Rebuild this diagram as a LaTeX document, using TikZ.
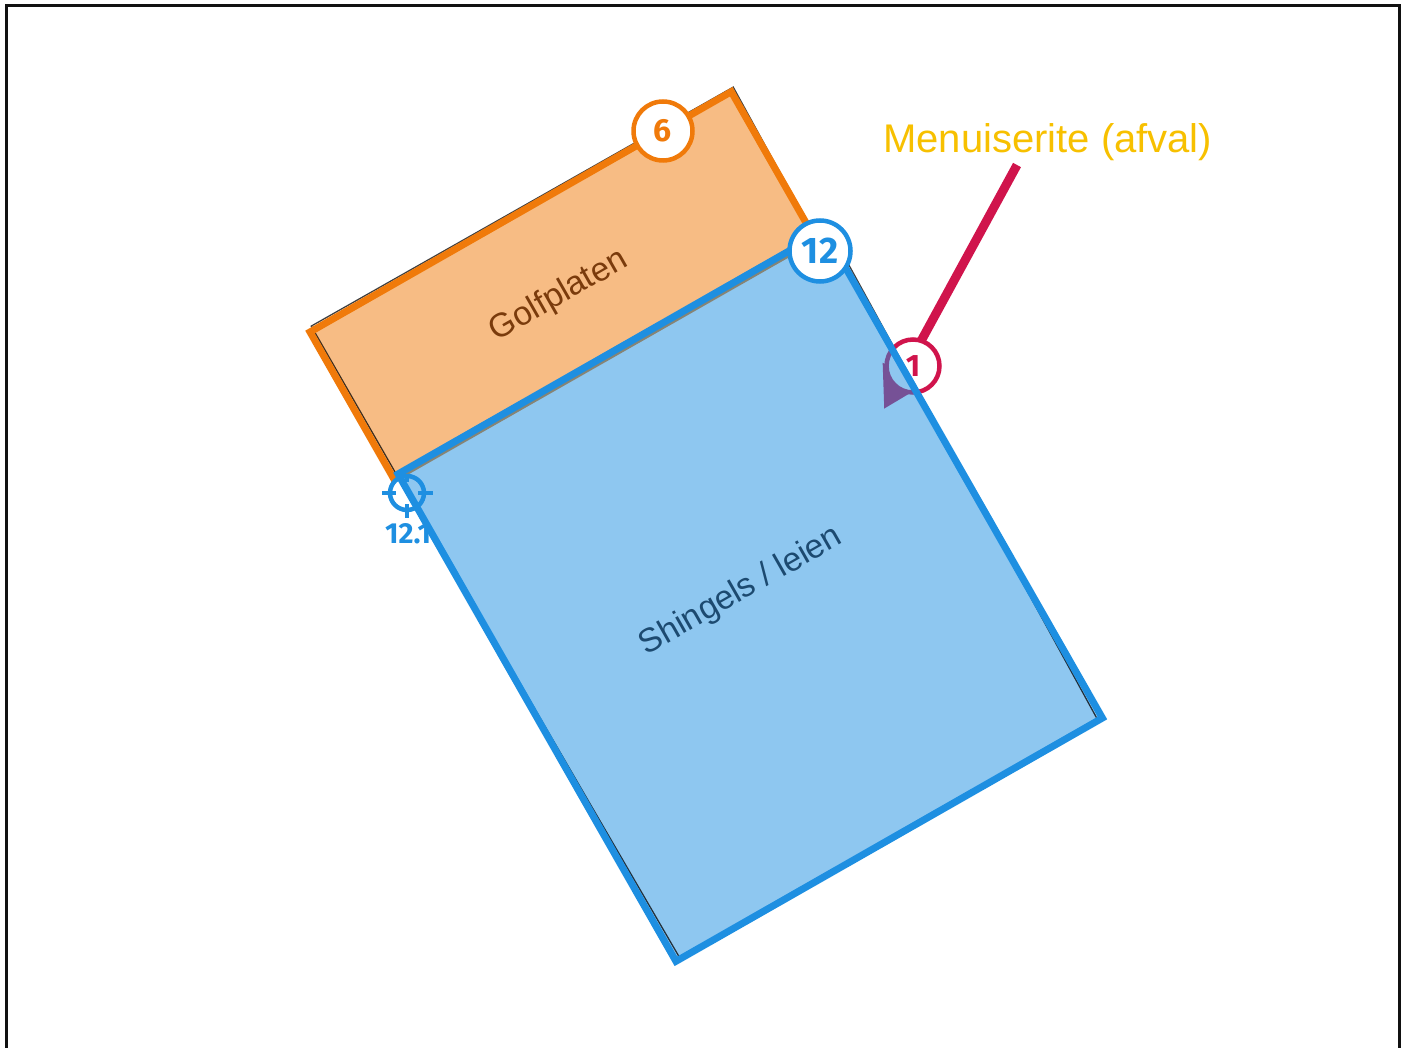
\documentclass[tikz,border=0pt]{standalone}
\usepackage{fontspec}
\setmainfont{Liberation Sans}
\newfontfamily\arialfont{Liberation Sans}
\newfontfamily\numfont{Fira Sans}
\usetikzlibrary{arrows.meta}
\definecolor{orng}{HTML}{F07A0A}
\definecolor{blu}{HTML}{1E8FE1}
\definecolor{crim}{HTML}{D0144C}
\definecolor{gold}{HTML}{F7C000}
\definecolor{brn}{HTML}{7A3B0C}
\definecolor{navy}{HTML}{1C4A70}
\definecolor{frame}{HTML}{111111}
\tikzset{
  edgeline/.style={line width=7, line join=miter},
  darkline/.style={draw=black, line width=1.3, draw opacity=0.75},
  badge/.style={circle, fill=white, line width=4.5, inner sep=0, font=\numfont\bfseries},
  arealabel/.style={font=\arialfont\fontsize{33.5}{38}\selectfont, inner sep=0},
}
\begin{document}
\begin{tikzpicture}[x=1pt,y=1pt]
\useasboundingbox (0,0) rectangle (1405,-1048);
% frame (open at bottom)
\draw[frame, line width=3] (6.5,-1048) -- (6.5,-5.5) -- (1399,-5.5) -- (1399,-1048);

% Golfplaten area
\begin{scope}[shift={(310,-332)}, rotate=29.7]
  \fill[orng, fill opacity=0.5] (0,0) rectangle (485,-169);
  \draw[darkline] (4,4.5) -- (489,3) -- (486,-165) -- (4.5,-165) -- cycle;
  \draw[orng, edgeline] (0,0) rectangle (485,-169);
  \node[arealabel, text=brn, transform shape] (golf) at (234,-92) {Golfplaten};
\end{scope}

% label 12.1 (partly hidden)
\node[anchor=base west, inner sep=0, text=blu, font=\numfont\bfseries\fontsize{29}{32}\selectfont] (lbl121) at (385,-543) {12.1};

% arrow from the Menuiserite label
\coordinate (arrstart) at (1017,-165);
\coordinate (arrtip) at (884,-409);
\draw[crim, line width=9, -{Triangle[length=40pt, width=44pt]}] (arrstart) -- (arrtip);
\node[badge, draw=crim, text=crim, minimum size=53, font=\numfont\bfseries\fontsize{31}{34}\selectfont] (b1) at (913,-366) {1};

% Shingels area
\begin{scope}[shift={(398,-474)}, rotate=29.7]
  \fill[blu, fill opacity=0.5] (0,0) rectangle (491,-561);
  \draw[darkline] (0,0) -- (496,1) -- (486,-560) -- (5,-559) -- cycle;
  \draw[blu, edgeline] (0,0) rectangle (491,-561);
  \node[arealabel, text=navy, transform shape] (shing) at (240,-272) {Shingels / leien};
\end{scope}

% crosshair
\node[circle, draw=blu, line width=4.5, minimum size=34, inner sep=0] (cross) at (407,-493) {};
\draw[blu, line width=4.5] (cross.center) ++(-25,0) -- ++(14,0)
  (cross.center) ++(11,0) -- ++(15,0)
  (cross.center) ++(0,18) -- ++(0,-7)
  (cross.center) ++(0,-11) -- ++(0,-14);

% badges
\node[badge, draw=orng, text=orng, minimum size=59, font=\numfont\bfseries\fontsize{32}{35}\selectfont] (b6) at (663,-131) {6};
\node[badge, draw=blu, text=blu, minimum size=61, font=\numfont\bfseries\fontsize{37}{40}\selectfont] (b12) at (820,-251) {12};

% label
\node[anchor=base west, inner sep=0, text=gold, font=\arialfont\fontsize{40}{46}\selectfont] (menu) at (883,-153) {Menuiserite (afval)};
\end{tikzpicture}
\end{document}
